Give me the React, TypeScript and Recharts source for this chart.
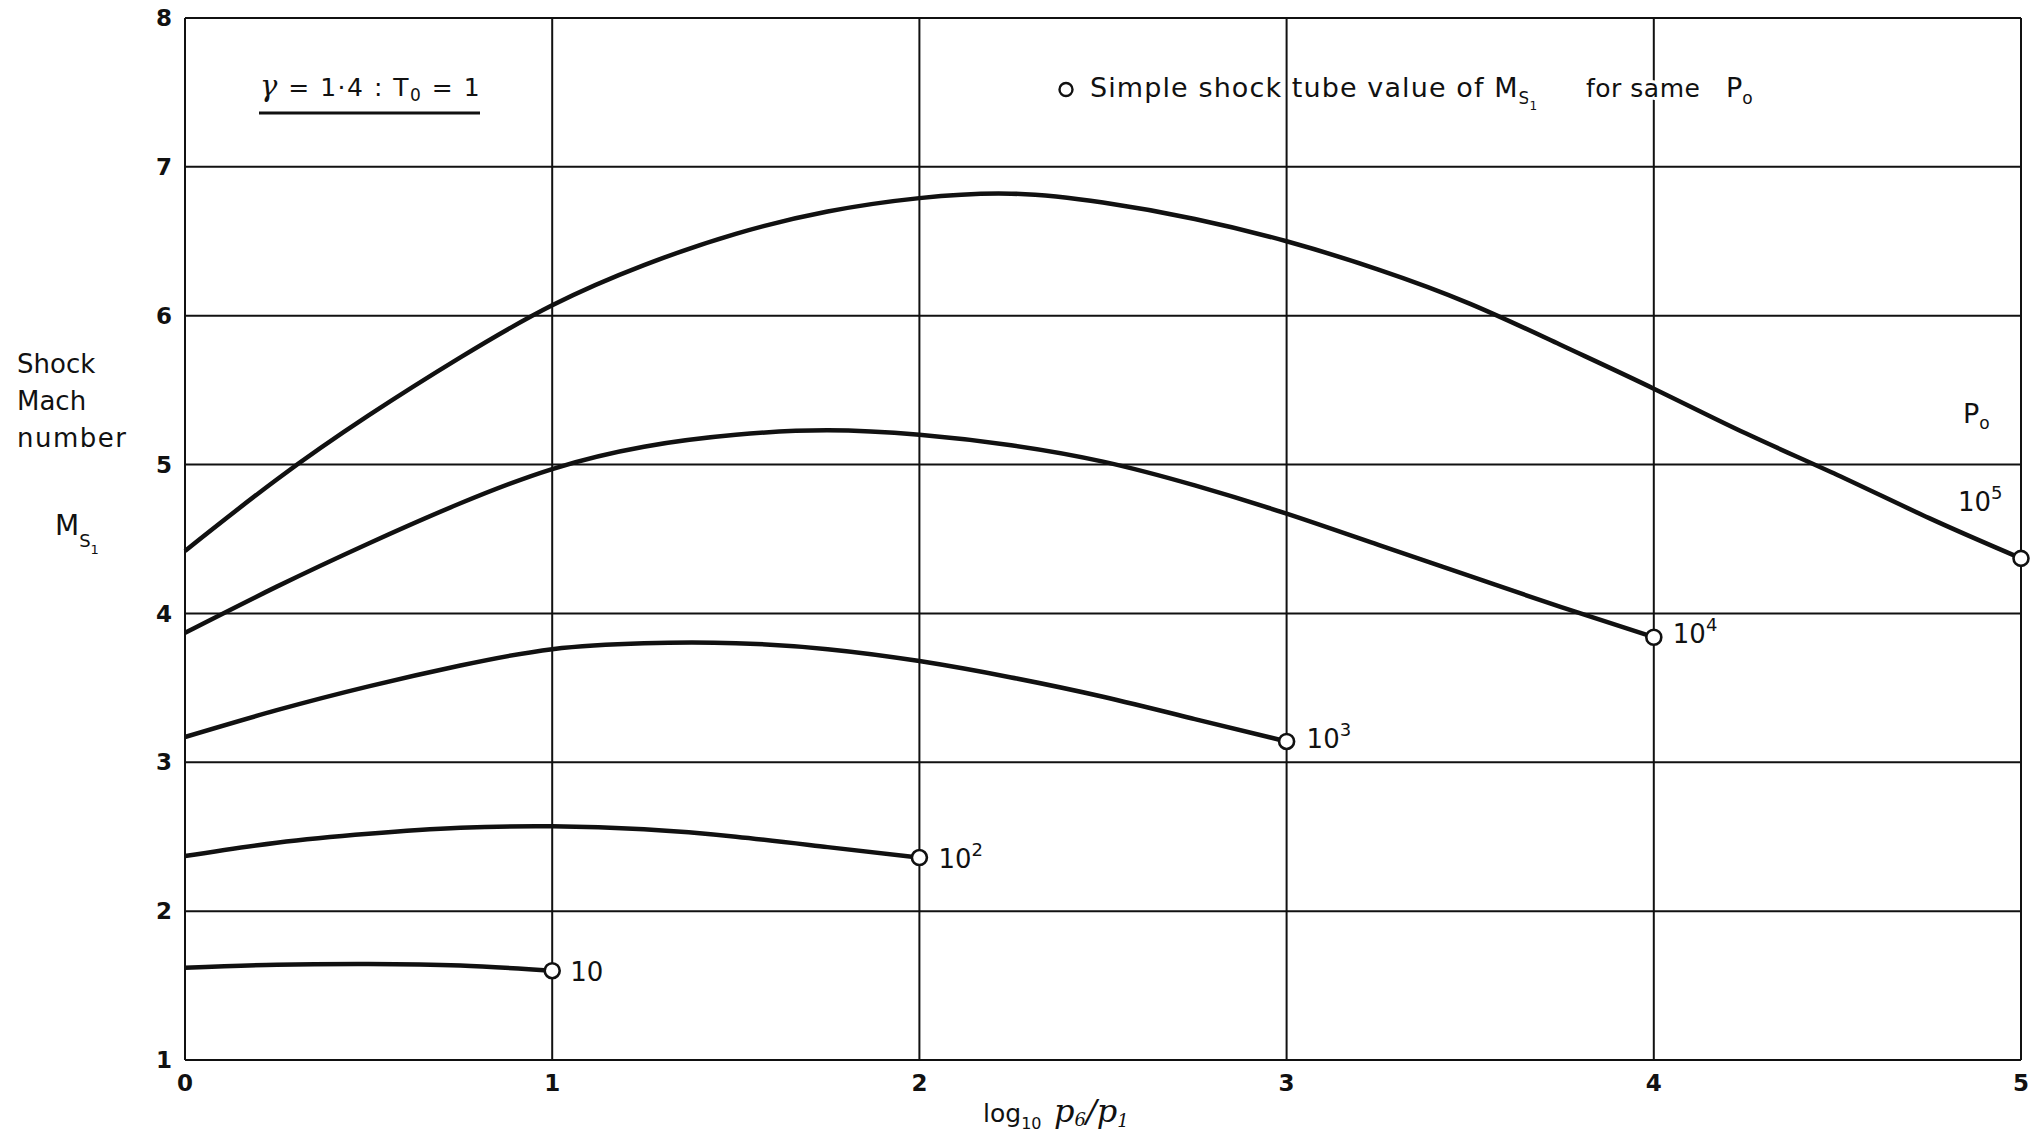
import React from 'react';
import { LineChart, Line, XAxis, YAxis, CartesianGrid } from 'recharts';

// log10(p6/p1) tick positions and Mach number ticks
const xTicks = [0, 1, 2, 3, 4, 5];
const yTicks = [1, 2, 3, 4, 5, 6, 7, 8];

// Shock Mach number M_S1 against log10(p6/p1), one curve per driver pressure P0
const p0_10 = [
  { x: 0, m: 1.62 }, { x: 0.25, m: 1.64 }, { x: 0.5, m: 1.645 }, { x: 0.75, m: 1.635 }, { x: 1, m: 1.6 },
];
const p0_1e2 = [
  { x: 0, m: 2.37 }, { x: 0.25, m: 2.46 }, { x: 0.5, m: 2.52 }, { x: 0.75, m: 2.56 }, { x: 1, m: 2.57 },
  { x: 1.25, m: 2.55 }, { x: 1.5, m: 2.5 }, { x: 1.75, m: 2.43 }, { x: 2, m: 2.36 },
];
const p0_1e3 = [
  { x: 0, m: 3.17 }, { x: 0.25, m: 3.35 }, { x: 0.5, m: 3.51 }, { x: 0.75, m: 3.65 }, { x: 1, m: 3.76 },
  { x: 1.25, m: 3.8 }, { x: 1.5, m: 3.8 }, { x: 1.75, m: 3.76 }, { x: 2, m: 3.68 }, { x: 2.25, m: 3.57 },
  { x: 2.5, m: 3.44 }, { x: 2.75, m: 3.29 }, { x: 3, m: 3.14 },
];
const p0_1e4 = [
  { x: 0, m: 3.87 }, { x: 0.25, m: 4.18 }, { x: 0.5, m: 4.47 }, { x: 0.75, m: 4.74 }, { x: 1, m: 4.97 },
  { x: 1.25, m: 5.12 }, { x: 1.5, m: 5.2 }, { x: 1.75, m: 5.23 }, { x: 2, m: 5.2 }, { x: 2.25, m: 5.13 },
  { x: 2.5, m: 5.02 }, { x: 2.75, m: 4.86 }, { x: 3, m: 4.67 }, { x: 3.25, m: 4.46 }, { x: 3.5, m: 4.25 },
  { x: 3.75, m: 4.04 }, { x: 4, m: 3.84 },
];
const p0_1e5 = [
  { x: 0, m: 4.42 }, { x: 0.25, m: 4.9 }, { x: 0.5, m: 5.33 }, { x: 0.75, m: 5.72 }, { x: 1, m: 6.07 },
  { x: 1.25, m: 6.34 }, { x: 1.5, m: 6.55 }, { x: 1.75, m: 6.7 }, { x: 2, m: 6.79 }, { x: 2.25, m: 6.82 },
  { x: 2.5, m: 6.76 }, { x: 2.75, m: 6.65 }, { x: 3, m: 6.5 }, { x: 3.25, m: 6.31 }, { x: 3.5, m: 6.08 },
  { x: 3.75, m: 5.8 }, { x: 4, m: 5.51 }, { x: 4.25, m: 5.21 }, { x: 4.5, m: 4.93 }, { x: 4.75, m: 4.64 },
  { x: 5, m: 4.37 },
];

// Label of each curve: base "10" with an exponent
const exponents = ['', '2', '3', '4', '5'];

const INK = '#111';
const FONT = '"DejaVu Sans", sans-serif';

type SeriesCfg = { id: string; data: { x: number; m: number }[]; exp: string; dx: number; dy: number; showP0?: boolean };

const series: SeriesCfg[] = [
  { id: 'p10', data: p0_10, exp: exponents[0], dx: 18, dy: 10 },
  { id: 'p1e2', data: p0_1e2, exp: exponents[1], dx: 19, dy: 10 },
  { id: 'p1e3', data: p0_1e3, exp: exponents[2], dx: 20, dy: 7 },
  { id: 'p1e4', data: p0_1e4, exp: exponents[3], dx: 19, dy: 6 },
  { id: 'p1e5', data: p0_1e5, exp: exponents[4], dx: -63, dy: -47, showP0: true },
];

const halo = { stroke: '#fff', strokeWidth: 6, paintOrder: 'stroke' as const, strokeLinejoin: 'round' as const };

// End-of-curve marker: open circle (simple shock tube value) plus the P0 label
function makeEndDot(cfg: SeriesCfg) {
  const last = cfg.data.length - 1;
  return (props: any) => {
    const { cx, cy, index } = props;
    if (index !== last || cx == null || cy == null) return <g key={`d-${cfg.id}-${index}`} />;
    const tx = cx + cfg.dx;
    const ty = cy + cfg.dy;
    return (
      <g key={`d-${cfg.id}-${index}`}>
        <circle cx={cx} cy={cy} r={7.5} fill="#fff" stroke={INK} strokeWidth={2.6} />
        <text x={tx} y={ty} fontFamily={FONT} fontSize={26} fill={INK} {...halo}>
          10
          {cfg.exp ? (
            <tspan dy={-12} fontSize={18}>
              {cfg.exp}
            </tspan>
          ) : null}
        </text>
        {cfg.showP0 ? (
          <text x={cx - 58} y={cy - 135} fontFamily={FONT} fontSize={27} fill={INK}>
            P
            <tspan dy={6} fontSize={17}>
              o
            </tspan>
          </text>
        ) : null}
      </g>
    );
  };
}

function Annotations() {
  return (
    <svg
      width={2035}
      height={1142}
      style={{ position: 'absolute', left: 0, top: 0, pointerEvents: 'none' }}
      fontFamily={FONT}
      fill={INK}
    >
      {/* y-axis title */}
      <text x={17} y={373} fontSize={26}>Shock</text>
      <text x={17} y={410} fontSize={26}>Mach</text>
      <text x={17} y={447} fontSize={26} letterSpacing={1.5}>number</text>
      <text x={55} y={535} fontSize={28}>
        M
        <tspan dy={12} fontSize={18}>S</tspan>
        <tspan dy={7} fontSize={13}>1</tspan>
      </text>

      {/* gas constants */}
      <text x={260} y={96} fontSize={25} letterSpacing={1.5}>
        <tspan fontStyle="italic" fontFamily='"DejaVu Serif", serif' fontSize={29}>γ</tspan>
        {' = 1·4 :  T'}
        <tspan dy={5} fontSize={17}>0</tspan>
        <tspan dy={-5}>{' = 1'}</tspan>
      </text>
      <line x1={259} x2={480} y1={113} y2={113} stroke={INK} strokeWidth={3} />

      {/* key */}
      <circle cx={1066} cy={89.5} r={6.5} fill="#fff" stroke={INK} strokeWidth={2.4} />
      <text x={1090} y={97} fontSize={27} letterSpacing={1.1} {...halo}>
        Simple shock tube value of M
        <tspan dy={7} fontSize={17} letterSpacing={0}>S</tspan>
        <tspan dy={6} fontSize={12} letterSpacing={0}>1</tspan>
      </text>
      <text x={1586} y={97} fontSize={25} letterSpacing={0.5} {...halo}>for same</text>
      <text x={1726} y={97} fontSize={27} {...halo}>
        P<tspan dy={7} fontSize={17}>o</tspan>
      </text>

      {/* x-axis title */}
      <text x={983} y={1122} fontSize={25}>
        log
        <tspan dy={7} fontSize={16}>10</tspan>
      </text>
      <text x={1054} y={1122} fontSize={32} fontStyle="italic" fontFamily='"DejaVu Serif", serif'>
        p
        <tspan dy={4} fontSize={18}>6</tspan>
        <tspan dy={-4}>/p</tspan>
        <tspan dy={5} fontSize={18}>1</tspan>
      </text>
    </svg>
  );
}

const tickStyle = { fontFamily: FONT, fontSize: 23, fontWeight: 700, fill: INK };

export default function App() {
  return (
    <div style={{ position: 'absolute', left: 0, top: 0, width: 2035, height: 1142, background: '#fff' }}>
      <LineChart width={2035} height={1142} margin={{ top: 18, right: 14, bottom: 22, left: 100 }}>
        <CartesianGrid stroke={INK} strokeWidth={2} />
        <XAxis
          type="number"
          dataKey="x"
          domain={[0, 5]}
          ticks={xTicks}
          allowDuplicatedCategory={false}
          height={60}
          tickSize={0}
          tickMargin={15}
          axisLine={{ stroke: INK, strokeWidth: 2 }}
          tick={tickStyle}
        />
        <YAxis
          type="number"
          domain={[1, 8]}
          ticks={yTicks}
          width={85}
          tickSize={0}
          tickMargin={13}
          axisLine={{ stroke: INK, strokeWidth: 2 }}
          tick={tickStyle}
        />
        {series.map((s) => (
          <Line
            key={s.id}
            data={s.data}
            dataKey="m"
            type="natural"
            stroke={INK}
            strokeWidth={4.5}
            dot={makeEndDot(s)}
            activeDot={false}
            isAnimationActive={false}
          />
        ))}
      </LineChart>
      <Annotations />
    </div>
  );
}
